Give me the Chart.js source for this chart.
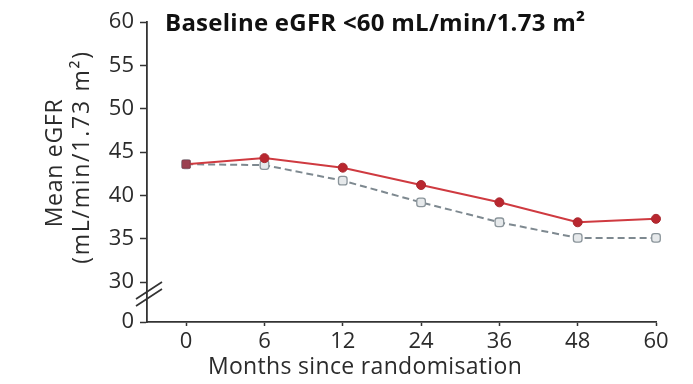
<!DOCTYPE html>
<html><head><meta charset="utf-8">
<script src="https://cdn.jsdelivr.net/npm/chart.js@4.4.1/dist/chart.umd.min.js"></script>
<style>html,body{margin:0;padding:0;background:#fff}#wrap{width:693px;height:384px;position:relative}</style>
</head><body><div id="wrap"><canvas id="c" width="693" height="384"></canvas></div>
<script>
const months = ['0', '6', '12', '24', '36', '48', '60'];
const baselineValues = [43.6, 44.3, 43.2, 41.2, 39.2, 36.9, 37.3];
const comparatorValues = [43.6, 43.5, 41.7, 39.2, 36.9, 35.1, 35.1];
const yTickValues = [25.4, 30, 35, 40, 45, 50, 55, 60];
const yTickLabels = ['0', '30', '35', '40', '45', '50', '55', '60'];
const chartTitle = 'Baseline eGFR <60 mL/min/1.73 m²';
const yTitleLines = ['Mean eGFR', '(mL/min/1.73 m²)'];
const xTitle = 'Months since randomisation';

const FONT = "'Open Sans', sans-serif";
const AXIS = '#333';

const toPoints = vals => vals.map((v, i) => ({x: i, y: v}));

function fitText(ctx, text, font, width) {
  ctx.font = font;
  ctx.letterSpacing = '0px';
  const w = ctx.measureText(text).width;
  const n = [...text].length - 1;
  return Math.max(0, (width - w) / n);
}

const textPlugin = {
  id: 'texts',
  afterDraw(chart) {
    const ctx = chart.ctx;
    const a = chart.chartArea;
    ctx.save();
    ctx.fillStyle = '#111';
    ctx.textAlign = 'left';
    ctx.textBaseline = 'middle';
    const tf = "bold 24px " + FONT;
    ctx.letterSpacing = fitText(ctx, chartTitle, tf, 420).toFixed(2) + 'px';
    ctx.fillText(chartTitle, a.left + 18, a.top + 2);

    ctx.fillStyle = '#2b2b2b';
    ctx.textAlign = 'center';
    ctx.letterSpacing = fitText(ctx, xTitle, "23px " + FONT, 314).toFixed(2) + 'px';
    ctx.fillText(xTitle, 365, 367);

    ctx.save();
    ctx.translate(55, 163);
    ctx.rotate(-Math.PI / 2);
    ctx.letterSpacing = fitText(ctx, yTitleLines[0], "23px " + FONT, 128).toFixed(2) + 'px';
    ctx.fillText(yTitleLines[0], 0, 0);
    ctx.restore();
    ctx.save();
    ctx.translate(82, 157);
    ctx.rotate(-Math.PI / 2);
    ctx.letterSpacing = fitText(ctx, yTitleLines[1], "23px " + FONT, 212).toFixed(2) + 'px';
    ctx.fillText(yTitleLines[1], 0, 0);
    ctx.restore();

    // axis break marks
    ctx.letterSpacing = '0px';
    ctx.strokeStyle = AXIS;
    ctx.lineWidth = 1.7;
    ctx.beginPath();
    ctx.moveTo(a.left - 11, 299); ctx.lineTo(a.left + 15, 282);
    ctx.moveTo(a.left - 11, 306); ctx.lineTo(a.left + 15, 289);
    ctx.stroke();
    ctx.restore();
  }
};

new Chart(document.getElementById('c'), {
  type: 'line',
  data: {
    datasets: [
      {
        data: toPoints(baselineValues),
        borderColor: '#cf3a40',
        borderWidth: 2,
        pointStyle: ['rect', 'circle', 'circle', 'circle', 'circle', 'circle', 'circle'],
        pointRadius: [5.5, 4.5, 4.5, 4.5, 4.5, 4.5, 4.5],
        pointBackgroundColor: ['#9b4050', '#b9272f', '#b9272f', '#b9272f', '#b9272f', '#b9272f', '#b9272f'],
        pointBorderColor: ['#8a3a48', '#a82a30', '#a82a30', '#a82a30', '#a82a30', '#a82a30', '#a82a30'],
        pointBorderWidth: 1,
        clip: false,
        tension: 0
      },
      {
        data: toPoints(comparatorValues),
        borderColor: '#7e8990',
        borderWidth: 2,
        borderDash: [7, 4],
        pointStyle: 'rectRounded',
        pointRadius: 5,
        pointBackgroundColor: '#e6e9eb',
        pointBorderColor: '#8b959b',
        pointBorderWidth: 1.3,
        clip: false,
        tension: 0
      }
    ]
  },
  options: {
    responsive: false,
    animation: false,
    layout: {padding: {left: 0, right: 37, top: 22, bottom: 0}},
    plugins: {legend: {display: false}, tooltip: {enabled: false}, title: {display: false}},
    scales: {
      x: {
        type: 'linear',
        min: -0.5,
        max: 6,
        afterBuildTicks: s => { s.ticks = months.map((m, i) => ({value: i})); },
        afterFit: s => { s.height = 62; },
        grid: {drawOnChartArea: false, drawTicks: true, tickLength: 4, tickColor: AXIS, tickWidth: 1.5},
        border: {display: true, color: AXIS, width: 1.8},
        ticks: {
          callback: v => months[v],
          color: '#2b2b2b',
          font: {family: FONT, size: 22},
          padding: 3,
          maxRotation: 0,
          autoSkip: false
        }
      },
      y: {
        type: 'linear',
        min: yTickValues[0],
        max: 60,
        afterBuildTicks: s => { s.ticks = yTickValues.map(v => ({value: v})); },
        afterFit: s => { s.width = 147; },
        grid: {drawOnChartArea: false, drawTicks: true, tickLength: 7, tickColor: AXIS, tickWidth: 1.5},
        border: {display: true, color: AXIS, width: 1.8},
        ticks: {
          callback: v => yTickLabels[yTickValues.indexOf(v)],
          color: '#2b2b2b',
          font: {family: FONT, size: 22},
          padding: 6,
          autoSkip: false
        }
      }
    }
  },
  plugins: [textPlugin]
});
</script></body></html>
